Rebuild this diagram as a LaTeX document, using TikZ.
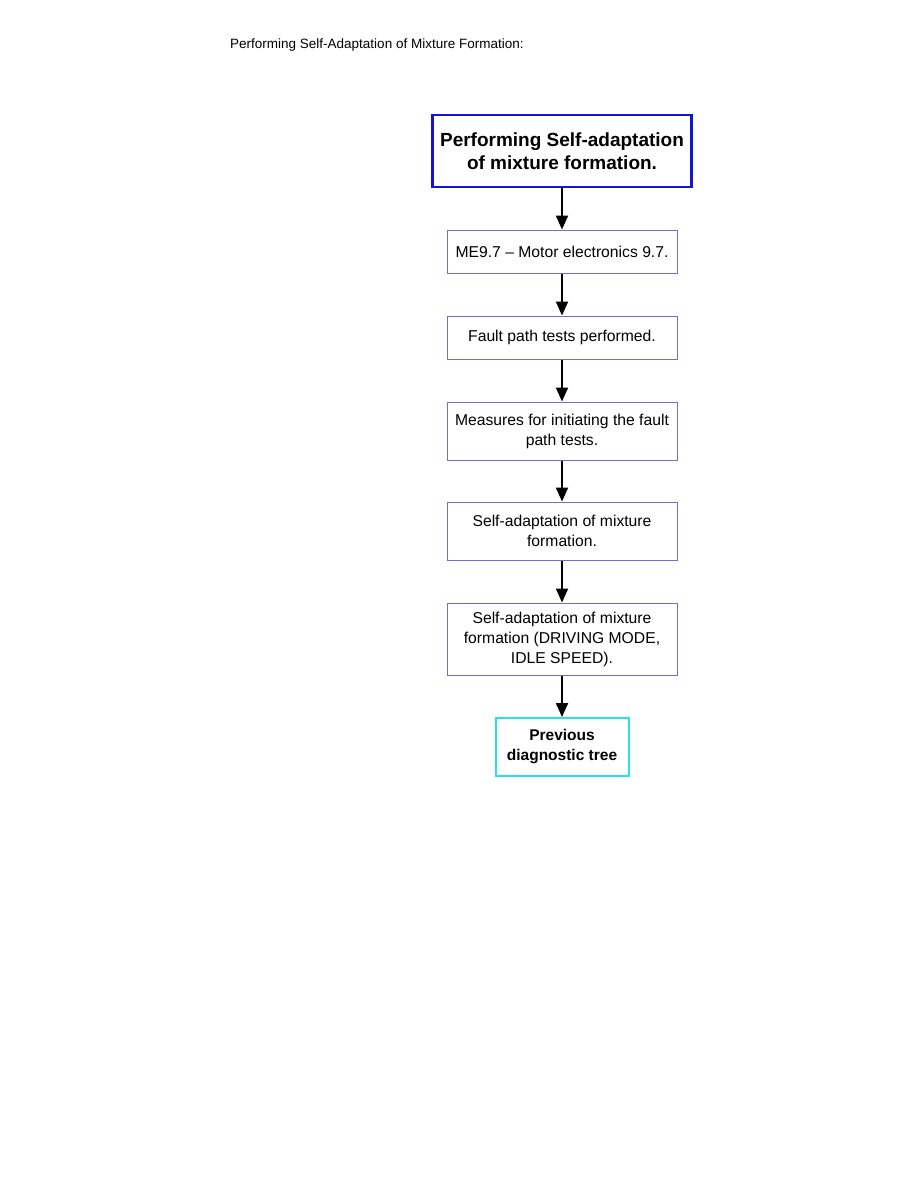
\documentclass[tikz,border=0pt]{standalone}
\usepackage{fontspec}
\setmainfont{Liberation Sans}
\usetikzlibrary{arrows.meta,positioning}
\definecolor{headblue}{RGB}{20,20,210}
\definecolor{stepblue}{RGB}{110,110,225}
\definecolor{backcyan}{RGB}{40,225,235}

\tikzset{
  headbox/.style={draw=headblue,line width=2.6pt,minimum width=259pt,minimum height=72pt,align=center,font=\fontsize{19}{23}\selectfont\bfseries},
  stepbox/.style={draw=stepblue,line width=1pt,minimum width=230pt,align=center,font=\fontsize{15.7}{20}\selectfont},
  backbox/.style={draw=backcyan,line width=2pt,minimum width=133pt,minimum height=58pt,align=center,font=\fontsize{15.5}{20}\selectfont\bfseries},
  flow/.style={-{Triangle[length=14pt,width=12pt]},line width=2pt}
}

\begin{document}
\begin{tikzpicture}[x=1pt,y=1pt]
\useasboundingbox (0,0) rectangle (918,-1188);
\node[anchor=base west,inner sep=0pt,font=\fontsize{13.5}{16}\selectfont] (title) at (230,-49) {Performing Self-Adaptation of Mixture Formation:};
% flow of boxes
\node[headbox] (perf) at (562,-151) {Performing Self-adaptation\\of mixture formation.};
\node[stepbox,minimum height=43pt] (me) at (562,-251.5) {ME9.7 -- Motor electronics 9.7.};
\node[stepbox,minimum height=43pt] (fault) at (562,-337.5) {Fault path tests performed.};
\node[stepbox,minimum height=58pt] (meas) at (562,-431) {Measures for initiating the fault\\path tests.};
\node[stepbox,minimum height=58pt] (self) at (562,-531) {Self-adaptation of mixture\\formation.};
\node[stepbox,minimum height=72pt] (drive) at (562,-639) {Self-adaptation of mixture\\formation (DRIVING MODE,\\IDLE SPEED).};
\node[backbox] (prev) at (562,-747) {Previous\\diagnostic tree};
% arrows
\draw[flow] (perf) -- (me);
\draw[flow] (me) -- (fault);
\draw[flow] (fault) -- (meas);
\draw[flow] (meas) -- (self);
\draw[flow] (self) -- (drive);
\draw[flow] (drive) -- (prev);
\end{tikzpicture}
\end{document}
